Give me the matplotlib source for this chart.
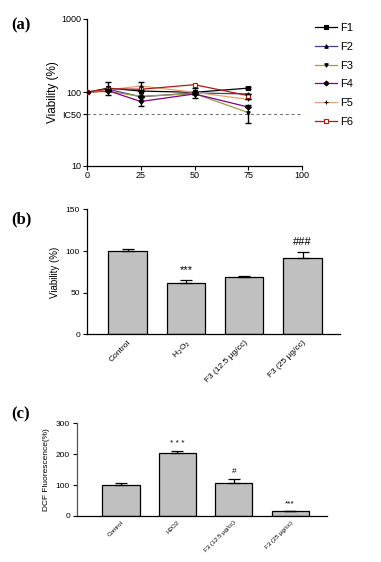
import numpy as np
import matplotlib
matplotlib.use("Agg")
import matplotlib.pyplot as plt

# ── Data ─────────────────────────────────────────────────────────────────────
# (a) viability vs concentration, log scale
conc = [0, 10, 25, 50, 75]
series_names = ["F1", "F2", "F3", "F4", "F5", "F6"]
f1 = [100, 114, 104, 100, 114]
f2 = [100, 110, 87, 98, 95]
f3 = [100, 103, 88, 96, 53]
f4 = [100, 105, 75, 95, 63]
f5 = [100, 108, 122, 100, 80]
f6 = [100, 112, 110, 127, 90]
f1_err = [3, 22, 0, 0, 4]
f3_err = [0, 0, 0, 0, 15]
f4_err = [0, 0, 10, 0, 0]
f5_err = [0, 0, 15, 0, 0]
f2_err = [0, 0, 0, 15, 0]
ic50 = 50

# (b) viability bars
b_labels = ["Control", "H$_2$O$_2$", "F3 (12.5 \u00b5g/cc)", "F3 (25 \u00b5g/cc)"]
b_values = [100, 62, 69, 92]
b_err = [2.5, 3.5, 1, 7]
b_marks = ["", "***", "", "###"]

# (c) DCF fluorescence bars
c_labels = ["Control", "H2O2", "F3 (12.5 \u00b5g/cc)", "F3 (25 \u00b5g/cc)"]
c_values = [100, 203, 106, 15]
c_err = [6, 7, 14, 1]
c_marks = ["", "* * *", "#", "***"]

# ── Styling ──────────────────────────────────────────────────────────────────
plt.rcParams["font.family"] = ["Liberation Sans", "DejaVu Sans"]
line_colors = ["black", "#404090", "#9a9a50", "#800080", "#e8a070", "#b01818"]
markers = ["s", "^", "v", "D", "+", "s"]
bar_gray = "#c0c0c0"

fig = plt.figure(figsize=(3.81, 5.62), dpi=100)

# ── (a) ──────────────────────────────────────────────────────────────────────
ax = fig.add_axes([0.228, 0.705, 0.565, 0.2615])
all_series = [f1, f2, f3, f4, f5, f6]
errs = {0: f1_err, 1: f2_err, 2: f3_err, 3: f4_err, 4: f5_err}
for i, (name, ys) in enumerate(zip(series_names, all_series)):
    mfc = "white" if i == 5 else "black"
    ax.plot(conc, ys, color=line_colors[i], lw=0.9, marker=markers[i],
            ms=2.5, mfc=mfc, mec="black" if i < 5 else line_colors[i],
            mew=0.8, label=name, zorder=3)
for i, e in errs.items():
    ax.errorbar(conc, all_series[i], yerr=e, fmt="none", ecolor="black",
                elinewidth=1.0, capsize=2.5, capthick=1.0, zorder=4)
ax.axhline(ic50, color="#666666", ls=(0, (3, 3)), lw=0.7)
ax.set_yscale("log")
ax.set_ylim(10, 1000)
ax.set_xlim(0, 100)
ax.set_xticks([0, 25, 50, 75, 100])
ax.set_yticks([10, ic50, 100, 1000])
ax.set_yticklabels(["10", "IC50", "100", "1000"])
ax.yaxis.set_minor_locator(matplotlib.ticker.NullLocator())
ax.tick_params(labelsize=6.5, length=3, width=0.8, pad=1)
ax.set_ylabel("Viability (%)", fontsize=8.5, labelpad=2)
for s in ("top", "right"):
    ax.spines[s].set_visible(False)
ax.spines["left"].set_linewidth(0.9)
ax.spines["bottom"].set_linewidth(0.9)
leg = ax.legend(loc="upper left", bbox_to_anchor=(1.06, 0.97), frameon=False,
                fontsize=8, handlelength=2.0, labelspacing=0.78,
                handletextpad=0.3, borderaxespad=0, borderpad=0)
fig.text(0.03, 0.955, "(a)", fontsize=12, fontweight="bold",
         family="Liberation Serif", va="center")

# ── (b) ──────────────────────────────────────────────────────────────────────
def bar_panel(rect, labels, values, err, marks, ylim, yticks, ylabel,
              label_size, mark_size, ylabel_size, left_color):
    ax = fig.add_axes(rect)
    x = np.arange(len(values))
    ax.bar(x, values, width=0.66, color=bar_gray, edgecolor="black", lw=0.9,
           zorder=2)
    ax.errorbar(x, values, yerr=[np.zeros(len(err)), err], fmt="none",
                ecolor="black", elinewidth=0.9, capsize=4, capthick=0.9, zorder=3)
    top = ylim[1]
    for xi, v, e, m in zip(x, values, err, marks):
        if m:
            ax.text(xi, v + e + top * 0.04, m, ha="center", va="bottom",
                    fontsize=mark_size)
    ax.set_ylim(*ylim)
    ax.set_yticks(yticks)
    ax.set_xticks(x)
    ax.set_xticklabels(labels, rotation=45, ha="right", rotation_mode="anchor",
                       fontsize=label_size)
    ax.tick_params(axis="y", labelsize=6, length=3, width=0.8, pad=2)
    ax.tick_params(axis="x", length=0, pad=3)
    ax.set_ylabel(ylabel, fontsize=ylabel_size, labelpad=4)
    for s in ("top", "right"):
        ax.spines[s].set_visible(False)
    ax.spines["left"].set_color(left_color)
    ax.spines["left"].set_linewidth(0.9)
    ax.spines["bottom"].set_linewidth(0.9)
    return ax

axb = bar_panel([0.228, 0.405, 0.664, 0.2224], b_labels, b_values, b_err,
                b_marks, (0, 150), [0, 50, 100, 150], "Viability (%)",
                6, 8, 7, "black")
axb.set_xlim(-0.7, 3.64)
fig.text(0.03, 0.61, "(b)", fontsize=12, fontweight="bold",
         family="Liberation Serif", va="center")

# ── (c) ──────────────────────────────────────────────────────────────────────
axc = bar_panel([0.202, 0.082, 0.656, 0.165], c_labels, c_values, c_err,
                c_marks, (0, 300), [0, 100, 200, 300], "DCF Fluorescence(%)",
                4.5, 6, 6, "#555555")
axc.set_xlim(-0.78, 3.65)
fig.text(0.03, 0.262, "(c)", fontsize=12, fontweight="bold",
         family="Liberation Serif", va="center")

fig.savefig("out.png", dpi=100)
